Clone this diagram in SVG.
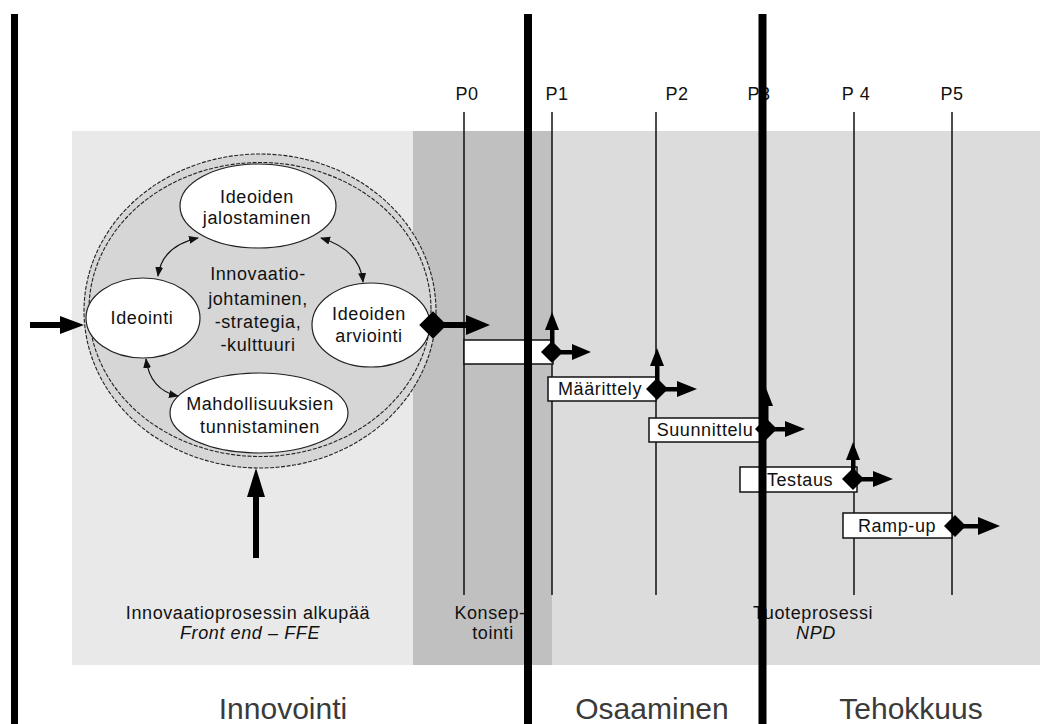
<svg xmlns="http://www.w3.org/2000/svg" width="1040" height="724" viewBox="0 0 1040 724">
<style>
  text { font-family: "Liberation Sans", Arial, sans-serif; fill: #111; }
  .t { font-size: 18px; letter-spacing: 0.6px; text-anchor: middle; }
  .it { font-style: italic; }
  .big { font-size: 30px; text-anchor: middle; fill: #3a3a3a; }
  .node { fill: #fff; stroke: #222; stroke-width: 1.2; }
  .ring { fill: #d6d6d6; stroke: #222; stroke-width: 1.1; stroke-dasharray: 4 1.5; }
  .box { fill: #fff; stroke: #111; stroke-width: 1.5; }
  .gate { stroke: #111; stroke-width: 1.5; fill: none; }
  .thick { stroke: #000; stroke-width: 8; }
  .curve { fill: none; stroke: #111; stroke-width: 1.2; }
  .blk { fill: #000; }
</style>
<defs>
  <marker id="sm" markerWidth="10" markerHeight="10" refX="9" refY="5" orient="auto-start-reverse" markerUnits="userSpaceOnUse">
    <path d="M0,1 L10,5 L0,9 z" fill="#111"/>
  </marker>
  <path id="dia" d="M-11,0 L0,-11 L11,0 L0,11 z" fill="#000"/>
</defs>
<rect width="1040" height="724" fill="#fff"/>

<g id="backgrounds">
  <rect x="72" y="131" width="342" height="534" fill="#e9e9e9"/>
  <rect x="413" y="131" width="139" height="534" fill="#c0c0c0"/>
  <rect x="552" y="131" width="488" height="534" fill="#dcdcdc"/>
</g>

<g id="milestones">
  <line class="gate" x1="464" y1="112" x2="464" y2="595"/>
  <line class="gate" x1="552" y1="112" x2="552" y2="595"/>
  <line class="gate" x1="656" y1="112" x2="656" y2="595"/>
  <line class="gate" x1="762" y1="112" x2="762" y2="595"/>
  <line class="gate" x1="854" y1="112" x2="854" y2="595"/>
  <line class="gate" x1="952" y1="112" x2="952" y2="595"/>
  <text class="t" x="467" y="100">P0</text>
  <text class="t" x="557" y="100">P1</text>
  <text class="t" x="677" y="100">P2</text>
  <text class="t" x="759" y="100">P3</text>
  <text class="t" x="856" y="100">P 4</text>
  <text class="t" x="952" y="100">P5</text>
</g>

<g id="innovation-cycle">
  <ellipse class="ring" cx="260" cy="311" rx="176" ry="157"/>
  <ellipse class="ring" cx="260" cy="309.5" rx="171" ry="147"/>
  <text class="t" x="258" y="280">Innovaatio-</text>
  <text class="t" x="258" y="305">johtaminen,</text>
  <text class="t" x="258" y="328">-strategia,</text>
  <text class="t" x="258" y="351">-kulttuuri</text>
</g>

<g id="node-jalostaminen">
  <ellipse class="node" cx="258" cy="206" rx="78" ry="42"/>
  <text class="t" x="257" y="203">Ideoiden</text>
  <text class="t" x="257" y="224">jalostaminen</text>
</g>
<g id="node-ideointi">
  <ellipse class="node" cx="143" cy="318" rx="57" ry="40"/>
  <text class="t" x="142" y="324">Ideointi</text>
</g>
<g id="node-arviointi">
  <ellipse class="node" cx="371" cy="325" rx="59" ry="42"/>
  <text class="t" x="369" y="320">Ideoiden</text>
  <text class="t" x="369" y="342">arviointi</text>
</g>
<g id="node-tunnistaminen">
  <ellipse class="node" cx="259" cy="413" rx="89" ry="40"/>
  <text class="t" x="260" y="410">Mahdollisuuksien</text>
  <text class="t" x="260" y="433">tunnistaminen</text>
</g>

<g id="phase-konsep">
  <rect class="box" x="464" y="340" width="89" height="24"/>
</g>
<g id="phase-maarittely">
  <rect class="box" x="548" y="377" width="108" height="24"/>
  <text class="t" x="600" y="395">Määrittely</text>
</g>
<g id="phase-suunnittelu">
  <rect class="box" x="649" y="418" width="114" height="24"/>
  <text class="t" x="705" y="436">Suunnittelu</text>
</g>
<g id="phase-testaus">
  <rect class="box" x="740" y="467" width="117" height="25"/>
  <text class="t" x="800" y="486">Testaus</text>
</g>
<g id="phase-rampup">
  <rect class="box" x="843" y="513" width="109" height="25"/>
  <text class="t" x="897" y="532">Ramp-up</text>
</g>

<g id="connectors">
  <path class="curve" d="M198,238 Q162,246 158,276" marker-start="url(#sm)" marker-end="url(#sm)"/>
  <path class="curve" d="M321,238 Q360,250 363,282" marker-start="url(#sm)" marker-end="url(#sm)"/>
  <path class="curve" d="M146,359 Q150,390 178,396" marker-start="url(#sm)" marker-end="url(#sm)"/>

  <rect class="blk" x="30" y="322" width="34" height="6"/>
  <path class="blk" d="M60,316 L84,325 L60,334 z"/>
  <rect class="blk" x="253" y="492" width="6" height="66"/>
  <path class="blk" d="M247,497 L256,468 L265,497 z"/>

  <use href="#dia" transform="translate(433,325) scale(1.25)"/>
  <rect class="blk" x="433" y="322" width="36" height="6"/>
  <path class="blk" d="M466,315 L490,325 L466,335 z"/>

  <use href="#dia" x="552" y="352"/>
  <rect class="blk" x="552" y="350" width="22" height="4.5"/>
  <path class="blk" d="M572,344 L591,352 L572,360 z"/>
  <rect class="blk" x="550" y="326" width="4.5" height="26"/>
  <path class="blk" d="M545,330 L552,312 L559,330 z"/>

  <use href="#dia" x="657" y="389"/>
  <rect class="blk" x="657" y="387" width="22" height="4.5"/>
  <path class="blk" d="M677,381 L697,389 L677,397 z"/>
  <rect class="blk" x="655" y="362" width="4.5" height="27"/>
  <path class="blk" d="M650,366 L657,348 L664,366 z"/>

  <use href="#dia" x="766" y="429"/>
  <rect class="blk" x="766" y="427" width="21" height="4.5"/>
  <path class="blk" d="M785,421 L805,429 L785,437 z"/>
  <rect class="blk" x="764" y="402" width="4.5" height="27"/>
  <path class="blk" d="M759,406 L766,388 L773,406 z"/>

  <use href="#dia" x="853" y="479"/>
  <rect class="blk" x="853" y="477" width="22" height="4.5"/>
  <path class="blk" d="M873,471 L893,479 L873,487 z"/>
  <rect class="blk" x="851" y="456" width="4.5" height="23"/>
  <path class="blk" d="M846,460 L853,442 L860,460 z"/>

  <use href="#dia" x="955" y="526"/>
  <rect class="blk" x="955" y="524" width="26" height="4.5"/>
  <path class="blk" d="M978,517 L1000,526 L978,535 z"/>
</g>

<g id="phase-labels">
  <text class="t" x="248" y="619">Innovaatioprosessin alkupää</text>
  <text class="t it" x="250" y="639">Front end – FFE</text>
  <text class="t" x="490" y="619">Konsep-</text>
  <text class="t" x="493" y="639">tointi</text>
  <text class="t" x="813" y="619">Tuoteprosessi</text>
  <text class="t it" x="816" y="639">NPD</text>
</g>

<g id="dividers">
  <line class="thick" x1="14.5" y1="14" x2="14.5" y2="724" style="stroke-width:7"/>
  <line class="thick" x1="528" y1="14" x2="528" y2="724"/>
  <line class="thick" x1="762.5" y1="14" x2="762.5" y2="724"/>
</g>

<g id="area-labels">
  <text class="big" x="283" y="719">Innovointi</text>
  <text class="big" x="652" y="719">Osaaminen</text>
  <text class="big" x="911" y="719">Tehokkuus</text>
</g>
</svg>
